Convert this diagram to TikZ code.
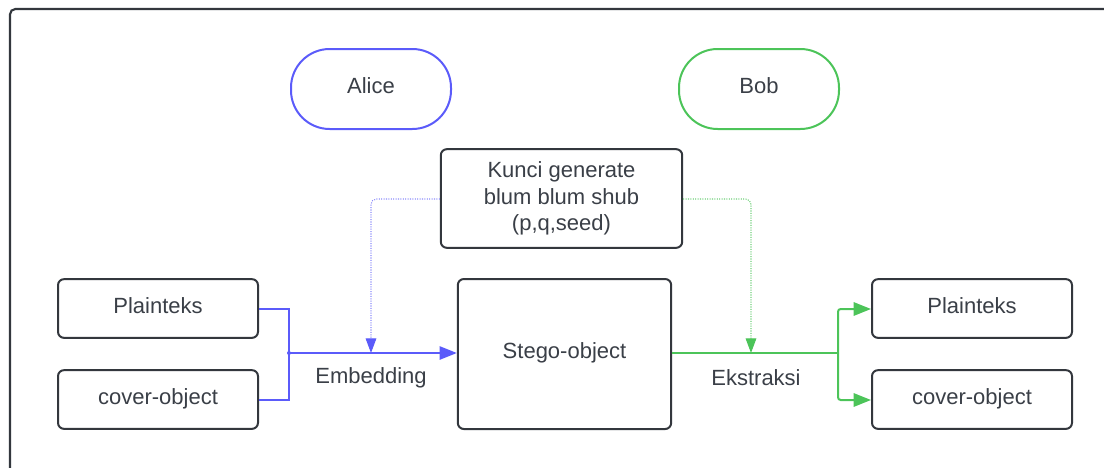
\documentclass[tikz,border=0pt]{standalone}
\usepackage{fontspec}
\setmainfont{Liberation Sans}
\usetikzlibrary{arrows.meta}
\definecolor{bl}{HTML}{5B5BFA}
\definecolor{gr}{HTML}{4CC459}
\definecolor{dk}{HTML}{33373D}
\definecolor{tx}{HTML}{3A3F47}
\tikzset{
  box/.style={draw=dk, line width=1.5pt, rounded corners=4.5pt, fill=white, text=tx, font=\fontsize{16.5}{20}\selectfont, align=center, inner sep=0pt},
  pill/.style={line width=1.5pt, rounded corners=29pt, fill=white, text=tx, font=\fontsize{16.5}{20}\selectfont, minimum width=120pt, minimum height=60pt, inner sep=0pt},
  lbl/.style={text=tx, font=\fontsize{16.5}{20}\selectfont, inner sep=0pt},
  big/.style={-{Triangle[length=13pt,width=10pt]}},
  small/.style={-{Triangle[length=11pt,width=8pt]}},
  dotl/.style={line width=0.8pt, densely dotted}
}
\begin{document}
\begin{tikzpicture}[x=0.75pt,y=-0.75pt]
\useasboundingbox (0,0) rectangle (1104,468);
\draw[dk, line width=1.6pt, rounded corners=4pt] (10,480) -- (10,9) -- (1120,9);

\node[pill, draw=bl, text height=12pt, text depth=5pt] (alice) at (371,89) {Alice};
\node[pill, draw=gr, text height=12pt, text depth=5pt] (bob) at (759,89) {Bob};

\node[box, minimum width=181pt, minimum height=74pt] (kunci) at (561.5,198.5) {Kunci generate\\blum blum shub\\(p,q,seed)};

\node[box, minimum width=150pt, minimum height=44pt, text height=12pt, text depth=5pt] (pl) at (158,308.5) {Plainteks};
\node[box, minimum width=150pt, minimum height=44pt, text height=12pt, text depth=5pt] (cl) at (158,399.5) {cover-object};
\node[box, minimum width=160pt, minimum height=112.5pt, text height=12pt, text depth=5pt] (st) at (564.5,354) {Stego-object};
\node[box, minimum width=150pt, minimum height=44pt, text height=12pt, text depth=5pt] (pr) at (972,308.5) {Plainteks};
\node[box, minimum width=150pt, minimum height=44pt, text height=12pt, text depth=5pt] (cr) at (972,399.5) {cover-object};

\coordinate (jl) at (289,353);
\coordinate (jr) at (838,353);
\coordinate (ke) at (371,353);
\coordinate (kx) at (751,353);

% embedding
\draw[bl, line width=1.5pt] (pl.east |- 0,309) -- (289,309) -- (289,400) -- (cl.east |- 0,400);
\draw[bl, line width=1.5pt, big] (jl) -- (st.west |- jl);
\fill[bl] (jl) circle (1.5pt);
\draw[bl!70, dotl, rounded corners=4pt, -{Triangle[length=11pt,width=8pt,fill=bl,color=bl]}] (kunci.west |- 0,199) -- (371,199) -- (ke);
\node[lbl] (emb) at (371,378) {Embedding};

% ekstraksi
\draw[gr, line width=1.5pt] (st.east |- jr) -- (jr);
\draw[gr, line width=1.5pt, big, rounded corners=2pt] (jr) -- (838,309) -- (pr.west |- 0,309);
\draw[gr, line width=1.5pt, big, rounded corners=2pt] (jr) -- (838,400) -- (cr.west |- 0,400);
\draw[gr!80, dotl, rounded corners=4pt, -{Triangle[length=11pt,width=8pt,fill=gr,color=gr]}] (kunci.east |- 0,199) -- (751,199) -- (kx);
\node[lbl] (eks) at (756,378) {Ekstraksi};
\end{tikzpicture}
\end{document}
